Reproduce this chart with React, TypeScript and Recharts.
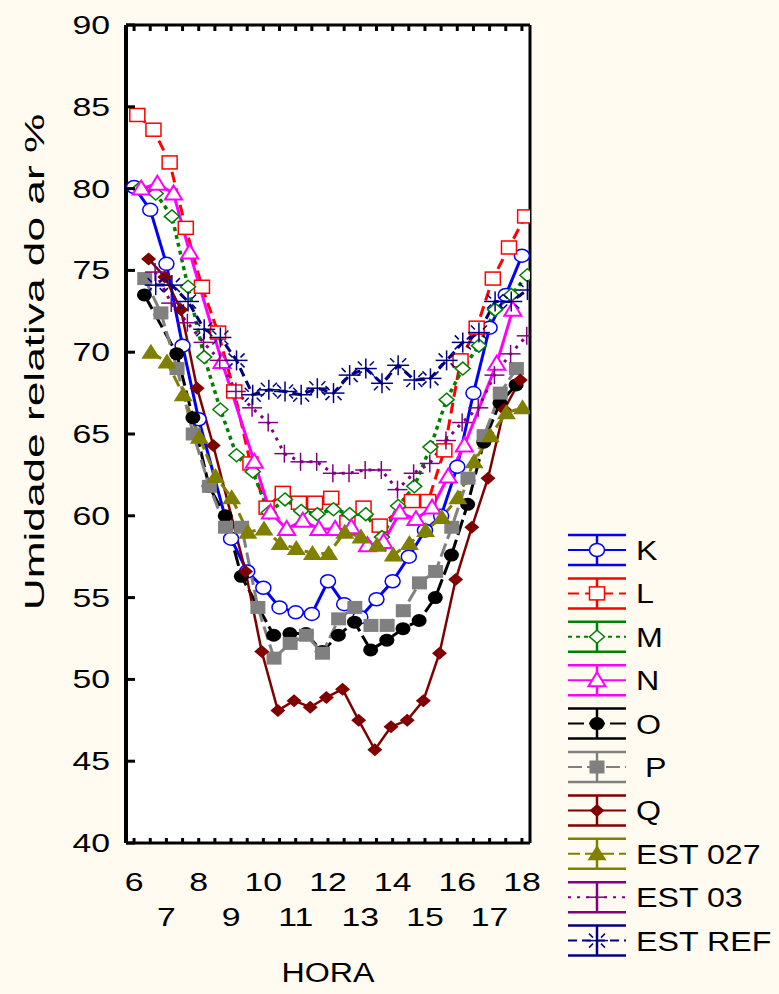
import React from "react";
import { LineChart, Line, XAxis, YAxis, CartesianGrid, Legend } from "recharts";

// half-hour slots, 6:00 .. 18:00
const hours = [6, 6.5, 7, 7.5, 8, 8.5, 9, 9.5, 10, 10.5, 11, 11.5, 12, 12.5, 13, 13.5, 14, 14.5, 15, 15.5, 16, 16.5, 17, 17.5, 18];
const hourLabels = [6, 7, 8, 9, 10, 11, 12, 13, 14, 15, 16, 17, 18];
const yTicks = [40, 45, 50, 55, 60, 65, 70, 75, 80, 85, 90];

const K = [80.1, 78.7, 75.4, 70.4, 65.9, null, 58.6, 56.6, 55.6, 54.4, 54.1, 54.0, 56.0, 54.6, 53.8, 54.9, 56.0, 57.5, 59.1, 60.0, 63.0, 67.5, 71.5, 73.5, 75.9];
const L = [84.5, 83.6, 81.6, 77.6, 74.0, 71.2, 67.6, 63.2, 60.5, 61.4, 60.8, 60.8, 61.1, 59.6, 60.5, 59.4, null, 60.9, 60.9, 64.0, 69.5, 71.5, 74.5, 76.4, 78.3];
const M = [80.0, 79.7, 78.3, 74.0, 69.7, 66.5, 63.7, 62.7, 60.2, 61.0, 60.3, 60.1, 60.4, 60.1, 60.1, 58.7, 60.6, 61.8, 64.2, 67.1, 69.0, 70.4, 72.6, 73.5, 74.7];
const N = [80.0, 80.3, 79.7, 76.1, null, 69.4, null, 63.3, 60.2, 59.2, 59.7, 59.2, 59.2, 59.3, 58.2, 58.4, 60.2, 59.8, 60.5, 62.4, 64.3, null, 69.3, 72.6, null];
const O = [73.5, null, 69.9, 66.0, 61.8, 60.0, 56.3, null, 52.7, 52.8, 52.8, 51.7, 52.7, 53.5, 51.8, 52.4, 53.1, 53.6, 55.0, 57.6, 60.7, 64.5, 66.9, 68.0, null];
const P = [74.5, 72.4, 69.0, 65.0, 61.8, 59.3, 59.3, 54.4, 51.3, 52.2, 52.7, 51.6, 53.7, 54.4, 53.3, 53.3, 54.2, 55.9, 56.6, 59.3, 62.3, 64.9, 67.5, 69.0, null];
const Q = [null, 75.7, 74.6, 72.6, 67.8, 64.3, null, 56.6, 51.7, 48.1, 48.7, 48.3, 48.9, 49.4, 47.5, 45.7, 47.1, 47.5, 48.7, 51.6, 56.1, 59.3, 62.3, 66.5, 68.3];
const EST027 = [null, 70.0, 69.4, 67.4, 64.8, 62.4, 61.1, 59.0, 59.2, 58.3, 58.0, 57.7, 57.7, 59.0, 58.7, 58.2, 57.6, 58.3, 59.1, 59.9, 61.1, 63.3, 64.9, 66.3, 66.6];
const EST03 = [null, 74.9, 73.0, 71.8, 70.6, 69.5, 67.6, 66.6, 65.7, 63.8, 63.3, 63.3, 62.6, 62.6, 62.8, 62.8, 61.6, 62.6, 63.2, 64.6, 65.7, 66.6, 68.6, 69.9, 71.0];
const ESTREF = [null, 74.1, 74.1, 73.1, 71.4, 70.9, 69.5, 67.4, 67.7, 67.6, 67.4, 67.8, 67.5, 68.6, 69.0, 68.1, 69.2, 68.3, 68.4, 69.5, 70.6, 71.2, 73.1, 73.1, 73.8];

// shift = horizontal offset of the series (hours), like the original plot
const series = [
  { name: "K", values: K, shift: 0, color: "#0000ff", dash: undefined, width: 3, marker: "circle" },
  { name: "L", values: L, shift: 0.1, color: "#ff0000", dash: "11 6", width: 3, marker: "square" },
  { name: "M", values: M, shift: 0.17, color: "#008000", dash: "4 4", width: 3.5, marker: "diamond" },
  { name: "N", values: N, shift: 0.22, color: "#ff00ff", dash: undefined, width: 3, marker: "triangle" },
  { name: "O", values: O, shift: 0.32, color: "#000000", dash: "16 5", width: 3, marker: "dot" },
  { name: "\u00a0P", values: P, shift: 0.33, color: "#808080", dash: "14 5", width: 3, marker: "fsquare" },
  { name: "Q", values: Q, shift: -0.05, color: "#800000", dash: undefined, width: 2.5, marker: "fdiamond" },
  { name: "EST 027", values: EST027, shift: 0.02, color: "#808000", dash: "12 5", width: 3, marker: "ftriangle" },
  { name: "EST 03", values: EST03, shift: 0.15, color: "#800080", dash: "3 6", width: 3, marker: "plus" },
  { name: "EST REF", values: ESTREF, shift: 0.17, color: "#000080", dash: "9 5", width: 3, marker: "star" },
];

const W = 779;
const H = 994;
const LEFT = 126;
const RIGHT = 530;
const TOP = 25;
const BOTTOM = 843;
const FONT = "'Liberation Sans', Arial, sans-serif";
const BG = "#fffbf0";

function Marker({ kind, color, x, y }: { kind: string; color: string; x: number; y: number }) {
  switch (kind) {
    case "circle":
      return <ellipse cx={x} cy={y} rx={7.5} ry={6.5} fill="#fff" stroke={color} strokeWidth={1.5} />;
    case "square":
      return <rect x={x - 7.5} y={y - 6.5} width={15} height={13} fill="#fff" stroke={color} strokeWidth={1.5} />;
    case "diamond":
      return <polygon points={`${x},${y - 6.5} ${x + 7.5},${y} ${x},${y + 6.5} ${x - 7.5},${y}`} fill="#fff" stroke={color} strokeWidth={1.5} />;
    case "triangle":
      return <polygon points={`${x},${y - 8} ${x + 8.5},${y + 6} ${x - 8.5},${y + 6}`} fill="#fff" stroke={color} strokeWidth={2} />;
    case "dot":
      return <ellipse cx={x} cy={y} rx={7.5} ry={6.5} fill={color} />;
    case "fsquare":
      return <rect x={x - 7.5} y={y - 6.5} width={15} height={13} fill={color} />;
    case "fdiamond":
      return <polygon points={`${x},${y - 6.5} ${x + 7.5},${y} ${x},${y + 6.5} ${x - 7.5},${y}`} fill={color} />;
    case "ftriangle":
      return <polygon points={`${x},${y - 8.5} ${x + 9.5},${y + 6.5} ${x - 9.5},${y + 6.5}`} fill={color} />;
    case "plus":
      return (
        <g stroke={color} strokeWidth={1.5}>
          <line x1={x - 10} x2={x + 10} y1={y} y2={y} />
          <line x1={x} x2={x} y1={y - 9} y2={y + 9} />
        </g>
      );
    case "star":
      return (
        <g stroke={color} strokeWidth={1.5}>
          <line x1={x - 11} x2={x + 11} y1={y} y2={y} />
          <line x1={x} x2={x} y1={y - 10} y2={y + 10} />
          <line x1={x - 8} x2={x - 4} y1={y - 7} y2={y - 3} />
          <line x1={x + 4} x2={x + 8} y1={y + 3} y2={y + 7} />
          <line x1={x + 8} x2={x + 4} y1={y - 7} y2={y - 3} />
          <line x1={x - 4} x2={x - 8} y1={y + 3} y2={y + 7} />
        </g>
      );
    default:
      return null;
  }
}

function makeDot(kind: string, color: string) {
  return (p: any) => {
    const { cx, cy, index } = p;
    if (cx == null || cy == null || isNaN(cy)) return <g key={`d${index}`} />;
    return (
      <g key={`d${index}`}>
        <Marker kind={kind} color={color} x={cx} y={cy} />
      </g>
    );
  };
}

function StretchText({ x, y, size, sx, anchor, children }: any) {
  return (
    <text
      transform={`translate(${x},${y}) scale(${sx},1)`}
      textAnchor={anchor}
      fontFamily={FONT}
      fontSize={size}
      fill="#000"
    >
      {children}
    </text>
  );
}

const YTick = (p: any) => {
  const { y, payload } = p;
  return (
    <g>
      <line x1={LEFT} x2={LEFT + 9} y1={y} y2={y} stroke="#000" strokeWidth={3} />
      <StretchText x={110} y={y + 9} size={26} sx={1.3} anchor="end">
        {payload.value}
      </StretchText>
    </g>
  );
};

const RightTick = (p: any) => {
  const { y } = p;
  return <line x1={RIGHT - 8} x2={RIGHT} y1={y} y2={y} stroke="#000" strokeWidth={3} />;
};

const TopTick = (p: any) => {
  const { x } = p;
  return <line x1={x} x2={x} y1={TOP} y2={TOP + 6} stroke="#000" strokeWidth={3} />;
};

const XTick = (p: any) => {
  const { x, payload } = p;
  const v = payload.value;
  return (
    <g>
      <line x1={x} x2={x} y1={BOTTOM} y2={BOTTOM - 5} stroke="#000" strokeWidth={3} />
      {hourLabels.includes(v) ? (
        <StretchText x={x} y={v % 2 === 0 ? 891 : 926} size={26} sx={1.3} anchor="middle">
          {v}
        </StretchText>
      ) : null}
    </g>
  );
};

const LegendBox = () => {
  return (
    <svg width={219} height={460}>
      {series.map((s, i) => {
        const cy = 20 + i * 43.4;
        const x0 = 8;
        const x1 = 66;
        const xm = (x0 + x1) / 2;
        return (
          <g key={s.name}>
            <line x1={x0} x2={x1} y1={cy - 15} y2={cy - 15} stroke={s.color} strokeWidth={2.5} />
            <line x1={x0} x2={x1} y1={cy + 15} y2={cy + 15} stroke={s.color} strokeWidth={2.5} />
            <line x1={xm} x2={xm} y1={cy - 15} y2={cy + 15} stroke={s.color} strokeWidth={2.5} />
            <line x1={x0} x2={x1} y1={cy} y2={cy} stroke={s.color} strokeWidth={2} strokeDasharray={s.dash} />
            <Marker kind={s.marker} color={s.color} x={xm} y={cy} />
            <StretchText x={76} y={cy + 10} size={28} sx={1.15} anchor="start">
              {s.name}
            </StretchText>
          </g>
        );
      })}
    </svg>
  );
};

export default function App() {
  return (
    <div style={{ position: "absolute", left: 0, top: 0, width: W, height: H, background: BG }}>
      <LineChart
        width={W}
        height={H}
        margin={{ top: TOP, right: W - RIGHT, bottom: H - BOTTOM - 100, left: LEFT - 60 }}
        style={{ background: BG }}
      >
        <rect x={LEFT} y={TOP} width={RIGHT - LEFT} height={BOTTOM - TOP} fill="#fff" />
        <CartesianGrid vertical={false} stroke="#c8c8c8" strokeDasharray="6 4" strokeWidth={1.5} />
        <XAxis
          type="number"
          dataKey="h"
          domain={[5.75, 18.25]}
          allowDataOverflow
          ticks={hours}
          interval={0}
          height={100}
          tickLine={false}
          tick={<XTick />}
          axisLine={{ stroke: "#000", strokeWidth: 3 }}
        />
        <XAxis
          xAxisId="top"
          orientation="top"
          type="number"
          dataKey="h"
          domain={[5.75, 18.25]}
          allowDataOverflow
          ticks={hours}
          interval={0}
          mirror
          tickLine={false}
          tick={<TopTick />}
          axisLine={{ stroke: "#000", strokeWidth: 3 }}
        />
        <YAxis
          type="number"
          domain={[40, 90]}
          ticks={yTicks}
          interval={0}
          width={60}
          tickLine={false}
          tick={<YTick />}
          axisLine={{ stroke: "#000", strokeWidth: 4 }}
        />
        <YAxis
          yAxisId="r"
          orientation="right"
          type="number"
          domain={[40, 90]}
          ticks={yTicks}
          interval={0}
          mirror
          tickLine={false}
          tick={<RightTick />}
          axisLine={{ stroke: "#000", strokeWidth: 3 }}
        />
        {series.map((s) => (
          <Line
            key={s.name}
            name={s.name}
            data={hours
              .map((h, i) => ({ h: h + s.shift, v: s.values[i] }))
              .filter((d) => d.v != null)}
            dataKey="v"
            type="linear"
            stroke={s.color}
            strokeWidth={s.width}
            strokeDasharray={s.dash}
            dot={makeDot(s.marker, s.color)}
            activeDot={false}
            isAnimationActive={false}
          />
        ))}
        <Legend
          layout="vertical"
          align="center"
          verticalAlign="middle"
          content={<LegendBox />}
          wrapperStyle={{ left: 560, top: 530, width: 219, height: 460 }}
        />
        <text
          transform={`translate(44, 362) rotate(-90) scale(1.58,1)`}
          textAnchor="middle"
          fontFamily={FONT}
          fontSize={28}
          fill="#000"
        >
          Umidade relativa do ar %
        </text>
        <StretchText x={328} y={982} size={28} sx={1.15} anchor="middle">
          HORA
        </StretchText>
      </LineChart>
    </div>
  );
}
